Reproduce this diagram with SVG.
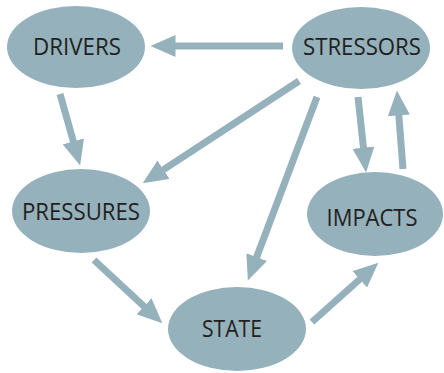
<svg xmlns="http://www.w3.org/2000/svg" width="444" height="373" viewBox="0 0 444 373">
<style>
.n{fill:#95b1bb}
.t{font-family:"Open Sans","Liberation Sans",sans-serif;font-size:23.5px;fill:#231f20;text-anchor:middle}
.c line{stroke:#95b1bb;stroke-width:7;marker-end:url(#ah)}
</style>
<defs>
<marker id="ah" markerUnits="userSpaceOnUse" markerWidth="25" markerHeight="22" refX="0.5" refY="11" orient="auto" viewBox="0 0 25 22">
<path d="M0,0 L25,11 L0,22 z" fill="#95b1bb"/>
</marker>
</defs>
<rect width="444" height="373" fill="#fff"/>
<g id="drivers"><ellipse class="n" cx="76" cy="47" rx="69" ry="41"/><text class="t" x="77" y="55" textLength="88" lengthAdjust="spacingAndGlyphs">DRIVERS</text></g>
<g id="stressors"><ellipse class="n" cx="361" cy="48" rx="69" ry="41"/><text class="t" x="362" y="55" textLength="118" lengthAdjust="spacingAndGlyphs">STRESSORS</text></g>
<g id="pressures"><ellipse class="n" cx="81" cy="211" rx="69" ry="42"/><text class="t" x="81" y="220" textLength="118" lengthAdjust="spacingAndGlyphs">PRESSURES</text></g>
<g id="impacts"><ellipse class="n" cx="375" cy="214" rx="68" ry="42"/><text class="t" x="372" y="226" textLength="91" lengthAdjust="spacingAndGlyphs">IMPACTS</text></g>
<g id="state"><ellipse class="n" cx="237" cy="329" rx="69" ry="42"/><text class="t" x="232" y="337" textLength="60" lengthAdjust="spacingAndGlyphs">STATE</text></g>
<g class="c" id="connectors">
<line x1="283" y1="46" x2="175" y2="46"/>
<line x1="60" y1="94" x2="73.5" y2="141.9"/>
<line x1="299" y1="81" x2="163.1" y2="169.9"/>
<line x1="317" y1="97" x2="256.5" y2="257.5"/>
<line x1="358" y1="97" x2="363.5" y2="148.1"/>
<line x1="403" y1="169" x2="398.8" y2="114.9"/>
<line x1="94" y1="260" x2="144.4" y2="306.7"/>
<line x1="312" y1="322" x2="360.1" y2="279"/>
</g>
</svg>
